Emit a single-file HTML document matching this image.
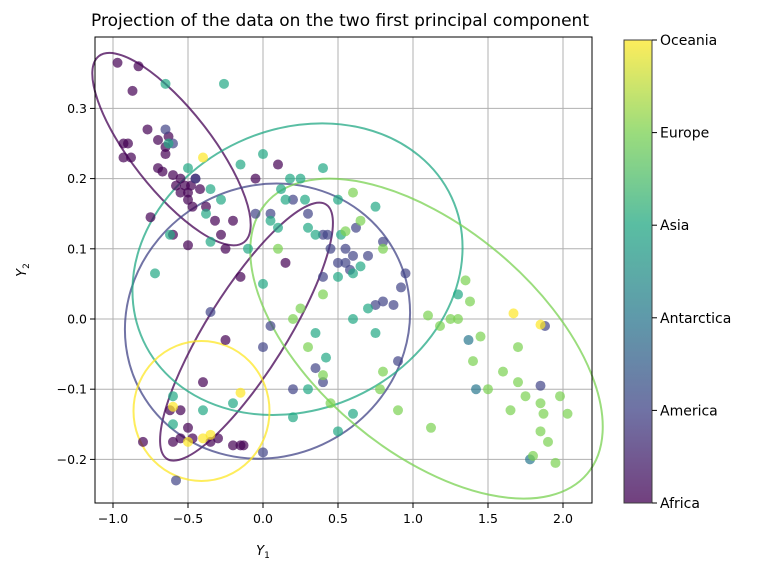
<!DOCTYPE html>
<html><head><meta charset="utf-8"><style>
body{margin:0;background:#fff;}
svg text{font-family:"DejaVu Sans","Liberation Sans",sans-serif;fill:#000;}
</style></head><body>
<svg id="chart" width="760" height="573" xmlns="http://www.w3.org/2000/svg">
<defs><linearGradient id="vir" x1="0" y1="1" x2="0" y2="0">
<stop offset="0" stop-color="#440154"/><stop offset="0.2" stop-color="#414487"/><stop offset="0.4" stop-color="#2a788e"/><stop offset="0.6" stop-color="#22a884"/><stop offset="0.8" stop-color="#7ad151"/><stop offset="1" stop-color="#fde725"/></linearGradient></defs>
<text x="340" y="26" font-size="17" text-anchor="middle">Projection of the data on the two first principal component</text>
<g id="grid"></g><g id="ell"></g><g id="pts"></g><g id="axes"></g>
<rect x="95" y="37" width="497" height="466" fill="none" stroke="#000" stroke-width="1"/>
<text x="263" y="555" font-size="13" text-anchor="middle"><tspan font-style="italic">Y</tspan><tspan font-size="9" dy="3">1</tspan></text>
<text transform="translate(26,270) rotate(-90)" font-size="13" text-anchor="middle"><tspan font-style="italic">Y</tspan><tspan font-size="9" dy="3">2</tspan></text>
<rect x="624" y="40" width="28" height="463" fill="url(#vir)" opacity="0.75" stroke="#000" stroke-width="1"/>
<g id="cbar"></g>
</svg>
<script>
const xTicks=[-1.0,-0.5,0.0,0.5,1.0,1.5,2.0];
const yTicks=[-0.2,-0.1,0.0,0.1,0.2,0.3];
const regions=["Africa","America","Antarctica","Asia","Europe","Oceania"];
const colors=["#440154","#414487","#2a788e","#22a884","#7ad151","#fde725"];
const africaPts=[[-0.97,0.365],[-0.83,0.36],[-0.87,0.325],[-0.93,0.25],[-0.9,0.25],[-0.93,0.23],[-0.88,0.23],[-0.77,0.27],[-0.7,0.255],[-0.65,0.245],[-0.63,0.26],[-0.65,0.235],[-0.6,0.205],[-0.67,0.21],[-0.7,0.215],[-0.55,0.2],[-0.58,0.19],[-0.52,0.19],[-0.5,0.18],[-0.48,0.19],[-0.45,0.2],[-0.42,0.185],[-0.5,0.17],[-0.47,0.16],[-0.55,0.18],[-0.38,0.16],[-0.32,0.14],[-0.28,0.12],[-0.2,0.14],[-0.75,0.145],[-0.6,0.12],[-0.5,0.105],[-0.25,0.1],[-0.05,0.2],[0.15,0.08],[-0.15,0.06],[0.1,0.22],[-0.4,-0.09],[-0.25,-0.03],[-0.55,-0.13],[-0.62,-0.13],[-0.5,-0.155],[-0.47,-0.17],[-0.8,-0.175],[-0.6,-0.175],[-0.55,-0.17],[-0.35,-0.175],[-0.2,-0.18],[-0.15,-0.18],[-0.3,-0.17],[-0.13,-0.18]];
const americaPts=[[-0.65,0.27],[-0.6,0.25],[-0.45,0.2],[-0.05,0.15],[0.05,0.15],[0.2,0.17],[0.3,0.15],[0.4,0.12],[0.43,0.12],[0.45,0.1],[0.5,0.08],[0.55,0.08],[0.58,0.07],[0.6,0.09],[0.62,0.13],[0.4,0.06],[0.7,0.09],[0.75,0.02],[0.8,0.025],[0.87,0.02],[0.95,0.065],[0.92,0.045],[0.9,-0.06],[0.35,-0.07],[0.4,-0.09],[0.05,-0.01],[0.0,-0.19],[-0.35,0.01],[-0.58,-0.23],[0.2,-0.1],[0.0,-0.04],[1.85,-0.095],[1.88,-0.01],[0.8,0.11],[0.55,0.1]];
const antarcticaPts=[[1.37,-0.03],[1.42,-0.1],[1.78,-0.2]];
const asiaPts=[[-0.65,0.335],[-0.26,0.335],[-0.63,0.25],[-0.72,0.065],[-0.62,0.12],[-0.5,0.215],[-0.38,0.15],[-0.35,0.185],[-0.35,0.11],[-0.28,0.17],[-0.15,0.22],[-0.1,0.1],[0.0,0.235],[0.05,0.14],[0.1,0.13],[0.12,0.185],[0.15,0.17],[0.18,0.2],[0.25,0.2],[0.28,0.17],[0.35,0.12],[0.4,0.215],[0.5,0.17],[0.52,0.12],[0.5,0.06],[0.6,0.065],[0.65,0.075],[0.75,0.16],[0.7,0.015],[0.75,-0.02],[0.6,0.0],[0.42,-0.055],[0.35,-0.02],[0.3,-0.1],[0.6,-0.135],[0.5,-0.16],[0.2,-0.14],[-0.6,-0.11],[-0.4,-0.13],[-0.2,-0.12],[-0.6,-0.15],[0.0,0.05],[1.3,0.035],[0.3,0.13]];
const europePts=[[0.1,0.1],[0.2,0.0],[0.25,0.015],[0.4,0.035],[0.4,-0.08],[0.45,-0.12],[0.55,0.125],[0.6,0.18],[0.65,0.14],[0.8,0.1],[0.8,-0.075],[0.78,-0.1],[0.9,-0.13],[1.1,0.005],[1.12,-0.155],[1.18,-0.01],[1.25,0.0],[1.3,0.0],[1.35,0.055],[1.38,0.025],[1.4,-0.06],[1.45,-0.025],[1.5,-0.1],[1.6,-0.075],[1.65,-0.13],[1.7,-0.09],[1.7,-0.04],[1.75,-0.11],[1.8,-0.195],[1.85,-0.12],[1.87,-0.135],[1.85,-0.16],[1.9,-0.175],[1.95,-0.205],[1.98,-0.11],[2.03,-0.135],[0.3,-0.04]];
const oceaniaPts=[[-0.4,0.23],[-0.6,-0.125],[-0.5,-0.175],[-0.4,-0.17],[-0.35,-0.165],[-0.15,-0.105],[1.67,0.008],[1.85,-0.008]];
// ellipses: [regionIndex, cx, cy (data), semi-axis a px, b px, angle deg]
const ellipses=[[0,-0.61,0.242,118,40,52],[0,-0.11,-0.018,150,40,-58],[1,0.03,-0.003,145,135,-30],[3,0.23,0.071,170,140,-25],[4,1.09,-0.028,210,112,40],[5,-0.41,-0.131,68,70,0]];
const allPts=[africaPts,americaPts,antarcticaPts,asiaPts,europePts,oceaniaPts];
const X=v=>263+150*v, Y=v=>319-702*v;
const NS="http://www.w3.org/2000/svg";
function mk(t,a,p){const e=document.createElementNS(NS,t);for(const k in a)e.setAttribute(k,a[k]);document.getElementById(p).appendChild(e);return e;}
xTicks.forEach(t=>{
 const g=mk('line',{x1:X(t),x2:X(t),y1:37,y2:503,stroke:'#b0b0b0','stroke-width':1},'grid');
 
 
 mk('line',{x1:X(t),x2:X(t),y1:503,y2:508,stroke:'#000'},'axes');
 const l=mk('text',{x:X(t),y:523,'font-size':12.5,'text-anchor':'middle'},'axes');l.textContent=(t<0?'\u2212':'')+Math.abs(t).toFixed(1);
 
 
});
yTicks.forEach(t=>{
 const g=mk('line',{x1:95,x2:592,y1:Y(t),y2:Y(t),stroke:'#b0b0b0','stroke-width':1},'grid');
 
 
 mk('line',{x1:90,x2:95,y1:Y(t),y2:Y(t),stroke:'#000'},'axes');
 const l=mk('text',{x:87,y:Y(t)+4.5,'font-size':12.5,'text-anchor':'end'},'axes');l.textContent=(t<0?'\u2212':'')+Math.abs(t).toFixed(1);
 
 
});
ellipses.forEach(e=>{
 const el=mk('ellipse',{cx:X(e[1]),cy:Y(e[2]),rx:e[3],ry:e[4],transform:`rotate(${e[5]} ${X(e[1])} ${Y(e[2])})`,fill:'none',stroke:colors[e[0]],'stroke-width':2,opacity:0.75},'ell');
 
 
});
allPts.forEach((arr,i)=>arr.forEach(p=>{
 const c=mk('circle',{cx:X(p[0]),cy:Y(p[1]),r:5,fill:colors[i],'fill-opacity':0.7},'pts');
 
 
}));
regions.forEach((r,i)=>{
 const y=503-i*(463/5);
 mk('line',{x1:652,x2:657,y1:y,y2:y,stroke:'#000'},'cbar');
 const l=mk('text',{x:660,y:y+5,'font-size':14},'cbar');l.textContent=r;
 
 
});
</script>
</body></html>
